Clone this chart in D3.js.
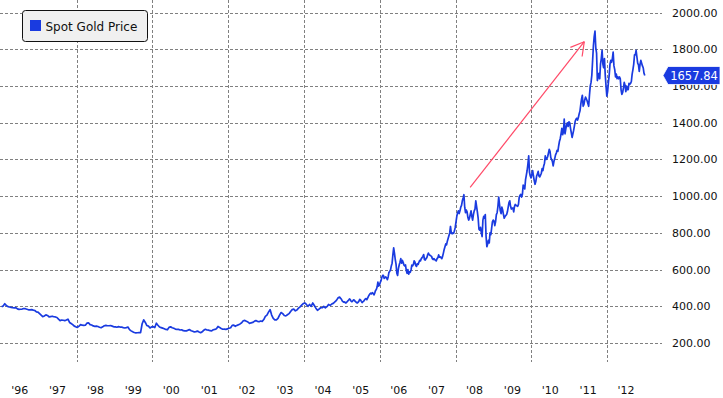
<!DOCTYPE html>
<html>
<head>
<meta charset="utf-8">
<script src="https://cdn.jsdelivr.net/npm/d3@7"></script>
<style>
  body { margin: 0; background: #fff; }
  svg { display: block; font-family: "DejaVu Sans", sans-serif; }
</style>
</head>
<body>
<div id="chart"></div>
<script>
/*Chart size*/
var width = 723;
var height = 398;

/*Spot gold, semi-monthly 1996-2004, weekly 2005-2012*/
var p1996 = [397,402,414,404,398,396,394,392,391,393,386,383,384,385,388,387,384,381,381,382,379,377,370,368];
var p1997 = [360,352,344,347,353,350,342,344,346,343,342,339,330,322,325,324,322,325,330,312,306,300,292,288];
var p1998 = [285,292,300,297,296,297,308,310,300,298,293,291,292,290,286,283,288,294,296,294,294,295,292,288];
var p1999 = [288,286,289,287,287,284,282,284,287,273,266,261,257,255,256,257,257,305,326,312,295,292,282,288];
var p2000 = [289,284,308,297,287,284,281,278,274,272,285,288,283,280,276,274,274,271,272,267,266,266,270,273];
var p2001 = [267,264,260,262,265,260,256,261,270,275,271,270,267,266,272,274,278,290,285,279,275,276,274,277];
var p2002 = [280,283,296,297,291,296,300,304,310,321,323,318,314,307,310,312,318,322,318,316,320,318,328,345];
var p2003 = [352,368,382,352,334,326,326,334,352,366,360,350,348,354,360,372,382,385,375,380,390,397,406,415];
var p2004 = [418,410,400,410,400,418,404,390,378,385,392,392,400,392,398,410,405,412,416,424,432,446,450,440];
var p2005 = [428,425,422,424,418,420,425,430,434,440,436,428,425,428,435,434,428,424,420,418,423,428,438,435,
             427,420,425,428,434,440,442,436,445,454,462,468,472,468,474,470,462,472,486,492,505,532,510,516];
var p2006 = [530,540,558,568,568,552,556,560,555,545,560,585,590,598,620,635,680,718,690,655,630,580,568,605,
             625,640,660,635,650,640,625,620,625,595,580,600,575,588,585,598,625,620,628,648,640,622,618,632];
var p2007 = [628,640,650,648,660,665,672,682,655,652,660,665,680,690,682,678,675,672,660,655,660,655,650,648,
             660,665,680,668,670,665,660,672,690,710,725,740,735,755,770,785,800,835,800,795,800,798,810,830];
var p2008 = [860,890,910,920,905,920,940,950,975,990,1008,940,910,925,915,885,870,880,900,920,890,870,900,920,
             930,975,945,915,880,820,815,830,800,780,870,890,880,900,780,725,740,760,745,800,790,825,860,870];
var p2009 = [865,840,860,900,910,945,995,955,920,905,940,925,900,880,890,895,900,915,940,965,975,945,930,935,
             935,915,945,955,950,948,945,955,995,1005,1010,995,1010,1060,1050,1040,1090,1115,1140,1175,1220,1130,1110,1100];
var p2010 = [1120,1140,1110,1085,1065,1080,1110,1120,1135,1110,1105,1115,1125,1150,1140,1165,1180,1220,1200,1205,1215,1235,1255,1245,
             1210,1200,1190,1165,1190,1205,1225,1235,1250,1245,1275,1300,1315,1340,1370,1335,1350,1420,1340,1365,1390,1400,1380,1405];
var p2011 = [1400,1370,1345,1320,1340,1360,1385,1410,1420,1425,1415,1430,1450,1465,1500,1530,1550,1490,1500,1525,1540,1530,1520,1505,
             1490,1550,1600,1620,1660,1740,1820,1870,1900,1810,1780,1630,1650,1670,1640,1720,1750,1795,1720,1700,1750,1660,1600,1545];
var p2012 = [1570,1620,1660,1720,1740,1730,1750,1785,1710,1690,1650,1665,1640,1650,1640,1650,1640,1580,1555,1565,1590,1620,1605,1570,
             1600,1580,1580,1615,1610,1615,1625,1665,1690,1720,1770,1770,1795,1760,1725,1715,1680,1720,1740,1725,1710,1700,1670,1657.84];

var years = [1996,1997,1998,1999,2000,2001,2002,2003,2004,2005,2006,2007,2008,2009,2010,2011,2012];
var yearValues = [p1996,p1997,p1998,p1999,p2000,p2001,p2002,p2003,p2004,p2005,p2006,p2007,p2008,p2009,p2010,p2011,p2012];

var yTicks = [200,400,600,800,1000,1200,1400,1600,1800,2000];
var gridYears = [1998,2000,2002,2004,2006,2008,2010,2012];
var seriesName = "Spot Gold Price";
var lastValue = 1657.84;

/*Annotation arrow (date, price)*/
var arrowFrom = [new Date(2008, 4, 20), 1048];
var arrowTo = [new Date(2011, 4, 25), 1842];

/*Build dated points*/
var data = [];
years.forEach(function(y, k){
	var vals = yearValues[k];
	var t0 = new Date(y, 0, 1).getTime();
	var t1 = new Date(y + 1, 0, 1).getTime();
	vals.forEach(function(v, i){
		data.push({date: new Date(t0 + (t1 - t0) * (i + 0.5) / vals.length), value: v});
	});
});

var x = d3.scaleTime()
		  .domain([new Date(1996, 0, 1), new Date(2013, 0, 1)])
		  .range([0.8, 645.2]);
var y = d3.scaleLinear()
		  .domain([200, 2000])
		  .range([343, 12.7]);

var gridRight = 662;
var gridBottom = 362;

var svg = d3.select("#chart").append("svg")
			.attr("width", width)
			.attr("height", height);

/*Grid*/
svg.append("g").selectAll("line")
	.data(yTicks)
	.enter().append("line")
	.attr("x1", 0).attr("x2", gridRight)
	.attr("y1", function(d){ return Math.round(y(d)) + 0.5; })
	.attr("y2", function(d){ return Math.round(y(d)) + 0.5; })
	.attr("stroke", "#808080")
	.attr("stroke-dasharray", "3,2");

svg.append("g").selectAll("line")
	.data(gridYears)
	.enter().append("line")
	.attr("x1", function(d){ return Math.round(x(new Date(d, 0, 1))) + 0.5; })
	.attr("x2", function(d){ return Math.round(x(new Date(d, 0, 1))) + 0.5; })
	.attr("y1", 0).attr("y2", gridBottom)
	.attr("stroke", "#808080")
	.attr("stroke-dasharray", "3,2");

/*Y axis labels*/
svg.append("g").selectAll("text")
	.data(yTicks)
	.enter().append("text")
	.attr("x", 672)
	.attr("y", function(d){ return y(d); })
	.attr("dy", "0.36em")
	.attr("font-size", 11)
	.attr("fill", "#111")
	.text(function(d){ return d3.format(".2f")(d); });

/*X axis labels*/
svg.append("g").selectAll("text")
	.data(years)
	.enter().append("text")
	.attr("x", function(d){ return x(new Date(d, 6, 1)); })
	.attr("y", 394)
	.attr("text-anchor", "middle")
	.attr("font-size", 11)
	.attr("fill", "#111")
	.text(function(d){ return "'" + String(d).slice(2); });

/*Price line*/
var line = d3.line()
			 .x(function(d){ return x(d.date); })
			 .y(function(d){ return y(d.value); });

svg.append("path")
	.datum(data)
	.attr("d", line)
	.attr("fill", "none")
	.attr("stroke", "#1a3be0")
	.attr("stroke-width", 1.7)
	.attr("stroke-linejoin", "round");

/*Arrow*/
var ax1 = x(arrowFrom[0]), ay1 = y(arrowFrom[1]);
var ax2 = x(arrowTo[0]), ay2 = y(arrowTo[1]);
var ang = Math.atan2(ay1 - ay2, ax1 - ax2);
var headLen = 15;
var arrow_g = svg.append("g")
				 .attr("stroke", "#ff4a68")
				 .attr("stroke-width", 1.2)
				 .attr("fill", "none");
arrow_g.append("line")
	   .attr("x1", ax1).attr("y1", ay1)
	   .attr("x2", ax2).attr("y2", ay2);
[-0.52, 0.52].forEach(function(da){
	arrow_g.append("line")
		   .attr("x1", ax2).attr("y1", ay2)
		   .attr("x2", ax2 + headLen * Math.cos(ang + da))
		   .attr("y2", ay2 + headLen * Math.sin(ang + da));
});

/*Last price tag*/
var ty = y(lastValue);
var tag_g = svg.append("g");
tag_g.append("path")
	 .attr("d", "M663," + ty + "L668," + (ty - 9) + "L720," + (ty - 9) + "L720," + (ty + 9) + "L668," + (ty + 9) + "Z")
	 .attr("fill", "#1a3be0")
	 .attr("stroke", "#ffffff")
	 .attr("stroke-width", 0.8);
tag_g.append("text")
	 .attr("x", 694)
	 .attr("y", ty)
	 .attr("dy", "0.36em")
	 .attr("text-anchor", "middle")
	 .attr("font-size", 11.5)
	 .attr("fill", "#fff")
	 .text(d3.format(".2f")(lastValue));

/*Legend*/
var legend_g = svg.append("g").attr("transform", "translate(22.5,10.5)");
legend_g.append("rect")
		.attr("width", 125).attr("height", 31)
		.attr("rx", 3)
		.attr("fill", "#f0f0f0")
		.attr("stroke", "#111")
		.attr("stroke-width", 1);
legend_g.append("rect")
		.attr("x", 7.5).attr("y", 9.5)
		.attr("width", 11).attr("height", 11)
		.attr("fill", "#1a3be0");
legend_g.append("text")
		.attr("x", 23).attr("y", 20)
		.attr("font-size", 12)
		.attr("fill", "#111")
		.text(seriesName);
</script>
</body>
</html>
